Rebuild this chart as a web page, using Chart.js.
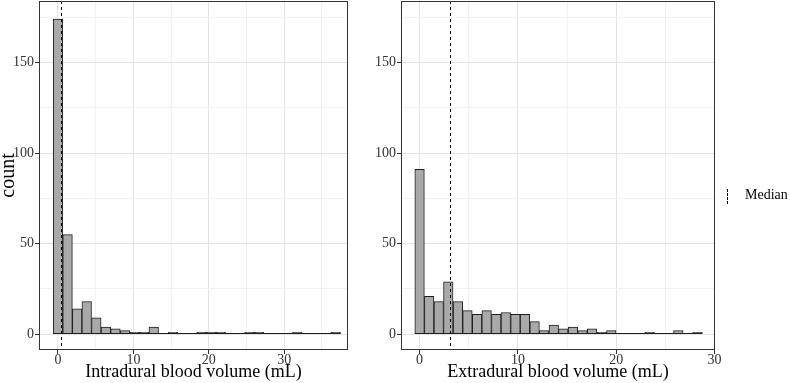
<!DOCTYPE html>
<html lang="en">
<head>
<meta charset="UTF-8">
<title>Blood volume histograms</title>
<style>
  html, body { margin: 0; padding: 0; background: #fff; }
  body { width: 790px; height: 383px; position: relative; overflow: hidden; font-family: "Liberation Serif", "Times New Roman", serif; }
  .panel { position: absolute; top: 0; height: 383px; }
  #leftWrap { left: 0; width: 360px; }
  #rightWrap { left: 360px; width: 430px; }
  .legend-key { position: absolute; left: 727px; top: 189px; width: 0; height: 15px; border-left: 1px dashed #000; }
  .legend-text { position: absolute; left: 745px; top: 187px; font-size: 14px; line-height: 16px; color: #000; }
</style>
</head>
<body>
<div id="leftWrap" class="panel"><canvas id="intraChart" width="360" height="383"></canvas></div>
<div id="rightWrap" class="panel"><canvas id="extraChart" width="430" height="383"></canvas></div>
<div class="legend-key"></div>
<div class="legend-text">Median</div>

<script src="https://cdn.jsdelivr.net/npm/chart.js@4.4.1/dist/chart.umd.js"></script>
<script>
// bin centres (mL) and counts
const intraBins = [0, 1.27, 2.54, 3.81, 5.08, 6.35, 7.62, 8.89, 10.16, 11.43,
                   12.7, 13.97, 15.24, 16.51, 17.78, 19.05, 20.32, 21.59, 22.86, 24.13,
                   25.4, 26.67, 27.94, 29.21, 30.48, 31.75, 33.02, 34.29, 35.56, 36.83];
const intraCounts = [174, 55, 14, 18, 9, 4, 3, 2, 1, 1,
                     4, 0, 1, 0, 0, 1, 1, 1, 0, 0,
                     1, 1, 0, 0, 0, 1, 0, 0, 0, 1];
const extraBins = [0, 0.975, 1.95, 2.92, 3.9, 4.87, 5.85, 6.82, 7.8, 8.77,
                   9.75, 10.72, 11.7, 12.67, 13.65, 14.62, 15.6, 16.57, 17.55, 18.52,
                   19.5, 20.47, 21.45, 22.42, 23.4, 24.37, 25.35, 26.32, 27.3, 28.27];
const extraCounts = [91, 21, 18, 29, 18, 13, 11, 13, 11, 12,
                     11, 11, 7, 2, 5, 3, 4, 2, 3, 1,
                     2, 0, 0, 0, 1, 0, 0, 2, 0, 1];
const intraMedian = 0.4;
const extraMedian = 3.1;

const yTicks = [0, 25, 50, 75, 100, 125, 150, 175];
const intraXTicks = [0, 5, 10, 15, 20, 25, 30, 35];
const extraXTicks = [0, 5, 10, 15, 20, 25, 30];

const MAJOR_GRID = '#e3e3e3';
const MINOR_GRID = '#f2f2f2';
const FRAME = '#333333';

Chart.defaults.font.family = '"Liberation Serif", "Times New Roman", serif';

// ggplot-style panel: frame all round, zero line under empty bins, dashed median
const panelPlugin = {
  id: 'panel',
  afterDatasetsDraw(chart, args, opts) {
    const { ctx, chartArea: a, scales } = chart;
    const meta = chart.getDatasetMeta(0);
    const first = meta.data[0], last = meta.data[meta.data.length - 1];
    const y0 = Math.round(scales.y.getPixelForValue(0)) - 0.5;
    ctx.save();
    ctx.strokeStyle = '#1f1f1f';
    ctx.lineWidth = 1;
    ctx.beginPath();
    ctx.moveTo(first.x - first.width / 2, y0);
    ctx.lineTo(last.x + last.width / 2, y0);
    ctx.stroke();

    const mx = Math.round(scales.x.getPixelForValue(opts.median)) + 0.5;
    ctx.strokeStyle = '#000';
    ctx.setLineDash([3, 3]);
    ctx.beginPath();
    ctx.moveTo(mx, a.top);
    ctx.lineTo(mx, a.bottom);
    ctx.stroke();
    ctx.restore();
  },
  afterDraw(chart) {
    const { ctx, chartArea: a } = chart;
    ctx.save();
    ctx.strokeStyle = FRAME;
    ctx.lineWidth = 1;
    ctx.strokeRect(Math.round(a.left) + 0.5, Math.round(a.top) + 0.5,
                   Math.round(a.right - a.left) - 1, Math.round(a.bottom - a.top) - 1);
    ctx.restore();
  }
};

function makeHist(id, bins, counts, median, xTicks, xMin, xMax, xTitle, yTitle, padRight, yWidth) {
  return new Chart(document.getElementById(id), {
    type: 'bar',
    data: {
      datasets: [{
        data: bins.map((x, i) => ({ x: x, y: counts[i] })),
        backgroundColor: '#a9a9a9',
        borderColor: '#1f1f1f',
        borderWidth: 1,
        borderSkipped: false,
        barPercentage: 1,
        categoryPercentage: 1
      }]
    },
    options: {
      responsive: false,
      animation: false,
      devicePixelRatio: 1,
      layout: { padding: { top: 1, right: padRight, bottom: 0, left: 0 } },
      plugins: {
        legend: { display: false },
        tooltip: { enabled: false },
        panel: { median: median }
      },
      scales: {
        x: {
          type: 'linear',
          offset: false,
          min: xMin,
          max: xMax,
          afterBuildTicks: s => { s.ticks = xTicks.map(v => ({ value: v })); },
          afterFit: s => { s.height = 33; s.paddingLeft = 0; s.paddingRight = 0; },
          border: { display: false },
          grid: {
            offset: false,
            color: c => (c.tick && c.tick.value % 10 === 0) ? MAJOR_GRID : MINOR_GRID,
            tickColor: c => (c.tick && c.tick.value % 10 === 0) ? FRAME : 'rgba(0,0,0,0)',
            tickLength: 4
          },
          ticks: {
            autoSkip: false,
            maxRotation: 0,
            padding: -2,
            color: '#333',
            font: { size: 14 },
            callback: v => v % 10 === 0 ? v : ''
          },
          title: {
            display: true,
            text: xTitle,
            color: '#000',
            font: { size: 18 },
            padding: { top: 0, bottom: 0 }
          }
        },
        y: {
          min: -8.7,
          max: 184,
          afterBuildTicks: s => { s.ticks = yTicks.map(v => ({ value: v })); },
          afterFit: s => { s.width = yWidth; s.paddingTop = 0; s.paddingBottom = 0; },
          border: { display: false },
          grid: {
            color: c => (c.tick && c.tick.value % 50 === 0) ? MAJOR_GRID : MINOR_GRID,
            tickColor: c => (c.tick && c.tick.value % 50 === 0) ? FRAME : 'rgba(0,0,0,0)',
            tickLength: 4
          },
          ticks: {
            autoSkip: false,
            padding: 1,
            color: '#333',
            font: { size: 14 },
            callback: v => v % 50 === 0 ? v : ''
          },
          title: {
            display: !!yTitle,
            text: yTitle,
            color: '#000',
            font: { size: 20, lineHeight: 1 },
            padding: { top: -1, bottom: 0 }
          }
        }
      }
    },
    plugins: [panelPlugin]
  });
}

makeHist('intraChart', intraBins, intraCounts, intraMedian, intraXTicks, -2.52, 38.47,
         'Intradural blood volume (mL)', 'count', 12, 39);
makeHist('extraChart', extraBins, extraCounts, extraMedian, extraXTicks, -1.89, 30.05,
         'Extradural blood volume (mL)', '', 75, 41);
</script>
</body>
</html>
